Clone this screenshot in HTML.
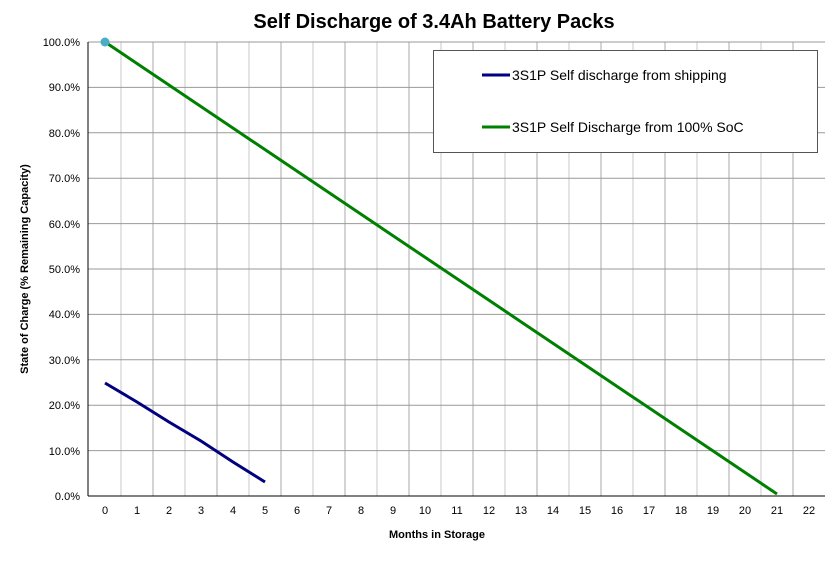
<!DOCTYPE html>
<html><head><style>body{margin:0;background:#fff}</style></head><body>
<svg width="825" height="561" xmlns="http://www.w3.org/2000/svg" font-family="Liberation Sans, Arial, sans-serif">
<rect width="825" height="561" fill="#fff"/>
<text x="434" y="28" text-anchor="middle" font-size="20" font-weight="bold">Self Discharge of 3.4Ah Battery Packs</text>
<g stroke="#c8c8c8" stroke-width="1">
<line x1="121" y1="42" x2="121" y2="496"/><line x1="153" y1="42" x2="153" y2="496" stroke="#a8a8a8"/>
<line x1="185" y1="42" x2="185" y2="496"/><line x1="217" y1="42" x2="217" y2="496" stroke="#a8a8a8"/>
<line x1="249" y1="42" x2="249" y2="496"/><line x1="281" y1="42" x2="281" y2="496" stroke="#a8a8a8"/>
<line x1="313" y1="42" x2="313" y2="496"/><line x1="345" y1="42" x2="345" y2="496" stroke="#a8a8a8"/>
<line x1="377" y1="42" x2="377" y2="496"/><line x1="409" y1="42" x2="409" y2="496" stroke="#a8a8a8"/>
<line x1="441" y1="42" x2="441" y2="496"/><line x1="473" y1="42" x2="473" y2="496" stroke="#a8a8a8"/>
<line x1="505" y1="42" x2="505" y2="496"/><line x1="537" y1="42" x2="537" y2="496" stroke="#a8a8a8"/>
<line x1="569" y1="42" x2="569" y2="496"/><line x1="601" y1="42" x2="601" y2="496" stroke="#a8a8a8"/>
<line x1="633" y1="42" x2="633" y2="496"/><line x1="665" y1="42" x2="665" y2="496" stroke="#a8a8a8"/>
<line x1="697" y1="42" x2="697" y2="496"/><line x1="729" y1="42" x2="729" y2="496" stroke="#a8a8a8"/>
<line x1="761" y1="42" x2="761" y2="496"/><line x1="793" y1="42" x2="793" y2="496" stroke="#a8a8a8"/>
</g>
<g stroke="#999" stroke-width="1">
<line x1="88" y1="42" x2="825" y2="42"/><line x1="88" y1="87.4" x2="825" y2="87.4"/>
<line x1="88" y1="132.8" x2="825" y2="132.8"/><line x1="88" y1="178.2" x2="825" y2="178.2"/>
<line x1="88" y1="223.6" x2="825" y2="223.6"/><line x1="88" y1="269" x2="825" y2="269"/>
<line x1="88" y1="314.4" x2="825" y2="314.4"/><line x1="88" y1="359.8" x2="825" y2="359.8"/>
<line x1="88" y1="405.2" x2="825" y2="405.2"/><line x1="88" y1="450.6" x2="825" y2="450.6"/>
</g>
<line x1="88" y1="496" x2="825" y2="496" stroke="#000"/>
<line x1="88" y1="42" x2="88" y2="496" stroke="#000"/>
<g font-size="11" text-anchor="end">
<text x="80" y="46">100.0%</text><text x="80" y="91">90.0%</text><text x="80" y="137">80.0%</text>
<text x="80" y="182">70.0%</text><text x="80" y="228">60.0%</text><text x="80" y="273">50.0%</text>
<text x="80" y="318">40.0%</text><text x="80" y="364">30.0%</text><text x="80" y="409">20.0%</text>
<text x="80" y="455">10.0%</text><text x="80" y="500">0.0%</text>
</g>
<g font-size="11" text-anchor="middle">
<text x="105" y="514">0</text><text x="137" y="514">1</text><text x="169" y="514">2</text><text x="201" y="514">3</text>
<text x="233" y="514">4</text><text x="265" y="514">5</text><text x="297" y="514">6</text><text x="329" y="514">7</text>
<text x="361" y="514">8</text><text x="393" y="514">9</text><text x="425" y="514">10</text><text x="457" y="514">11</text>
<text x="489" y="514">12</text><text x="521" y="514">13</text><text x="553" y="514">14</text><text x="585" y="514">15</text>
<text x="617" y="514">16</text><text x="649" y="514">17</text><text x="681" y="514">18</text><text x="713" y="514">19</text>
<text x="745" y="514">20</text><text x="777" y="514">21</text><text x="809" y="514">22</text>
</g>
<text x="437" y="538" text-anchor="middle" font-size="11" font-weight="bold">Months in Storage</text>
<text transform="translate(28,269) rotate(-90)" text-anchor="middle" font-size="11" font-weight="bold">State of Charge (% Remaining Capacity)</text>
<polyline points="105,383 137,402 169,422 201,441 233,462 265,482" fill="none" stroke="#000080" stroke-width="3"/>
<line x1="105" y1="42" x2="777" y2="494" stroke="#008000" stroke-width="3"/>
<circle cx="105" cy="42" r="4.5" fill="#4bacc6"/>
<rect x="433.5" y="50.5" width="384" height="102" fill="#fff" stroke="#555"/>
<line x1="482" y1="75" x2="510" y2="75" stroke="#000080" stroke-width="3"/>
<text x="512" y="80" font-size="14">3S1P Self discharge from shipping</text>
<line x1="482" y1="127" x2="510" y2="127" stroke="#008000" stroke-width="3"/>
<text x="512" y="132" font-size="14">3S1P Self Discharge from 100% SoC</text>
</svg>
</body></html>
